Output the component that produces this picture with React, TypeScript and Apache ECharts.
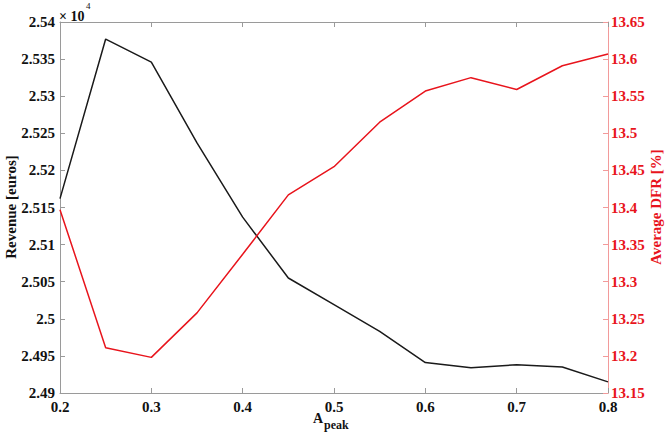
import React, { useEffect, useRef } from "react";
import * as echarts from "echarts";

const aPeak = [0.2, 0.25, 0.3, 0.35, 0.4, 0.45, 0.5, 0.55, 0.6, 0.65, 0.7, 0.75, 0.8];
const revenue = [25162, 25377, 25346, 25237, 25137, 25055, 25019, 24983, 24941, 24934, 24938, 24935, 24915];
const avgDfr = [13.397, 13.211, 13.198, 13.258, 13.337, 13.417, 13.455, 13.515, 13.557, 13.575, 13.559, 13.591, 13.607];

const FONT = "Liberation Serif";
const RED = "#e8141c";
const GRID_GRAY = "#9a9a9a";

export default function App() {
  const ref = useRef<HTMLDivElement>(null);
  useEffect(() => {
    if (!ref.current) return;
    const chart = echarts.init(ref.current, undefined, { renderer: "svg" });
    const labelStyle = { fontFamily: FONT, fontWeight: "bold" as const, fontSize: 15, color: "#111" };
    chart.setOption({
      animation: false,
      backgroundColor: "#fff",
      grid: { left: 60, right: 57, top: 22, bottom: 39 },
      xAxis: [
        {
          type: "value",
          min: 0.2,
          max: 0.8,
          interval: 0.1,
          position: "bottom",
          axisLine: { show: true, lineStyle: { color: GRID_GRAY, width: 1 } },
          axisTick: { show: true, inside: true, length: 5, lineStyle: { color: GRID_GRAY } },
          axisLabel: { ...labelStyle, margin: 6, formatter: (v: number) => v.toFixed(1) },
          splitLine: { show: false },
        },
        {
          type: "value",
          min: 0.2,
          max: 0.8,
          interval: 0.1,
          position: "top",
          axisLine: { show: true, lineStyle: { color: GRID_GRAY, width: 1 } },
          axisTick: { show: true, inside: true, length: 5, lineStyle: { color: GRID_GRAY } },
          axisLabel: { show: false },
          splitLine: { show: false },
        },
      ],
      yAxis: [
        {
          type: "value",
          min: 24900,
          max: 25400,
          interval: 50,
          position: "left",
          axisLine: { show: true, lineStyle: { color: GRID_GRAY, width: 1 } },
          axisTick: { show: true, inside: true, length: 5, lineStyle: { color: GRID_GRAY } },
          axisLabel: {
            ...labelStyle,
            margin: 5,
            formatter: (v: number) => String(parseFloat((v / 10000).toFixed(4))),
          },
          splitLine: { show: false },
        },
        {
          type: "value",
          min: 13.15,
          max: 13.65,
          interval: 0.05,
          position: "right",
          axisLine: { show: true, lineStyle: { color: "#f29a9a", width: 1 } },
          axisTick: { show: true, inside: true, length: 5, lineStyle: { color: "#f29a9a" } },
          axisLabel: {
            ...labelStyle,
            color: RED,
            margin: 3,
            formatter: (v: number) => String(parseFloat(v.toFixed(2))),
          },
          splitLine: { show: false },
        },
      ],
      series: [
        {
          type: "line",
          name: "Revenue",
          xAxisIndex: 0,
          yAxisIndex: 0,
          data: aPeak.map((x, i) => [x, revenue[i]]),
          symbol: "none",
          lineStyle: { color: "#1a1a1a", width: 1.5 },
          itemStyle: { color: "#1a1a1a" },
        },
        {
          type: "line",
          name: "Average DFR",
          xAxisIndex: 0,
          yAxisIndex: 1,
          data: aPeak.map((x, i) => [x, avgDfr[i]]),
          symbol: "none",
          lineStyle: { color: RED, width: 1.5 },
          itemStyle: { color: RED },
        },
      ],
      graphic: [
        {
          type: "text",
          x: 11,
          y: 207,
          rotation: Math.PI / 2,
          style: {
            text: "Revenue [euros]",
            font: `bold 15px "${FONT}"`,
            fill: "#111",
            textAlign: "center",
            textVerticalAlign: "middle",
          },
        },
        {
          type: "text",
          x: 656,
          y: 207,
          rotation: Math.PI / 2,
          style: {
            text: "Average DFR [%]",
            font: `bold 15px "${FONT}"`,
            fill: RED,
            textAlign: "center",
            textVerticalAlign: "middle",
          },
        },
        {
          type: "text",
          x: 313,
          y: 418,
          style: {
            text: "A",
            font: `bold 14px "${FONT}"`,
            fill: "#111",
            textAlign: "left",
            textVerticalAlign: "middle",
          },
        },
        {
          type: "text",
          x: 324,
          y: 425,
          style: {
            text: "peak",
            font: `bold 12px "${FONT}"`,
            fill: "#111",
            textAlign: "left",
            textVerticalAlign: "middle",
          },
        },
        {
          type: "text",
          x: 59,
          y: 16,
          style: {
            text: "× 10",
            font: `bold 14px "${FONT}"`,
            fill: "#111",
            textAlign: "left",
            textVerticalAlign: "middle",
          },
        },
        {
          type: "text",
          x: 86,
          y: 6,
          style: {
            text: "4",
            font: `9px "${FONT}"`,
            fill: "#111",
            textAlign: "left",
            textVerticalAlign: "middle",
          },
        },
      ],
    });
    return () => chart.dispose();
  }, []);
  return <div ref={ref} style={{ width: 665, height: 432, position: "absolute", left: 0, top: 0 }} />;
}
